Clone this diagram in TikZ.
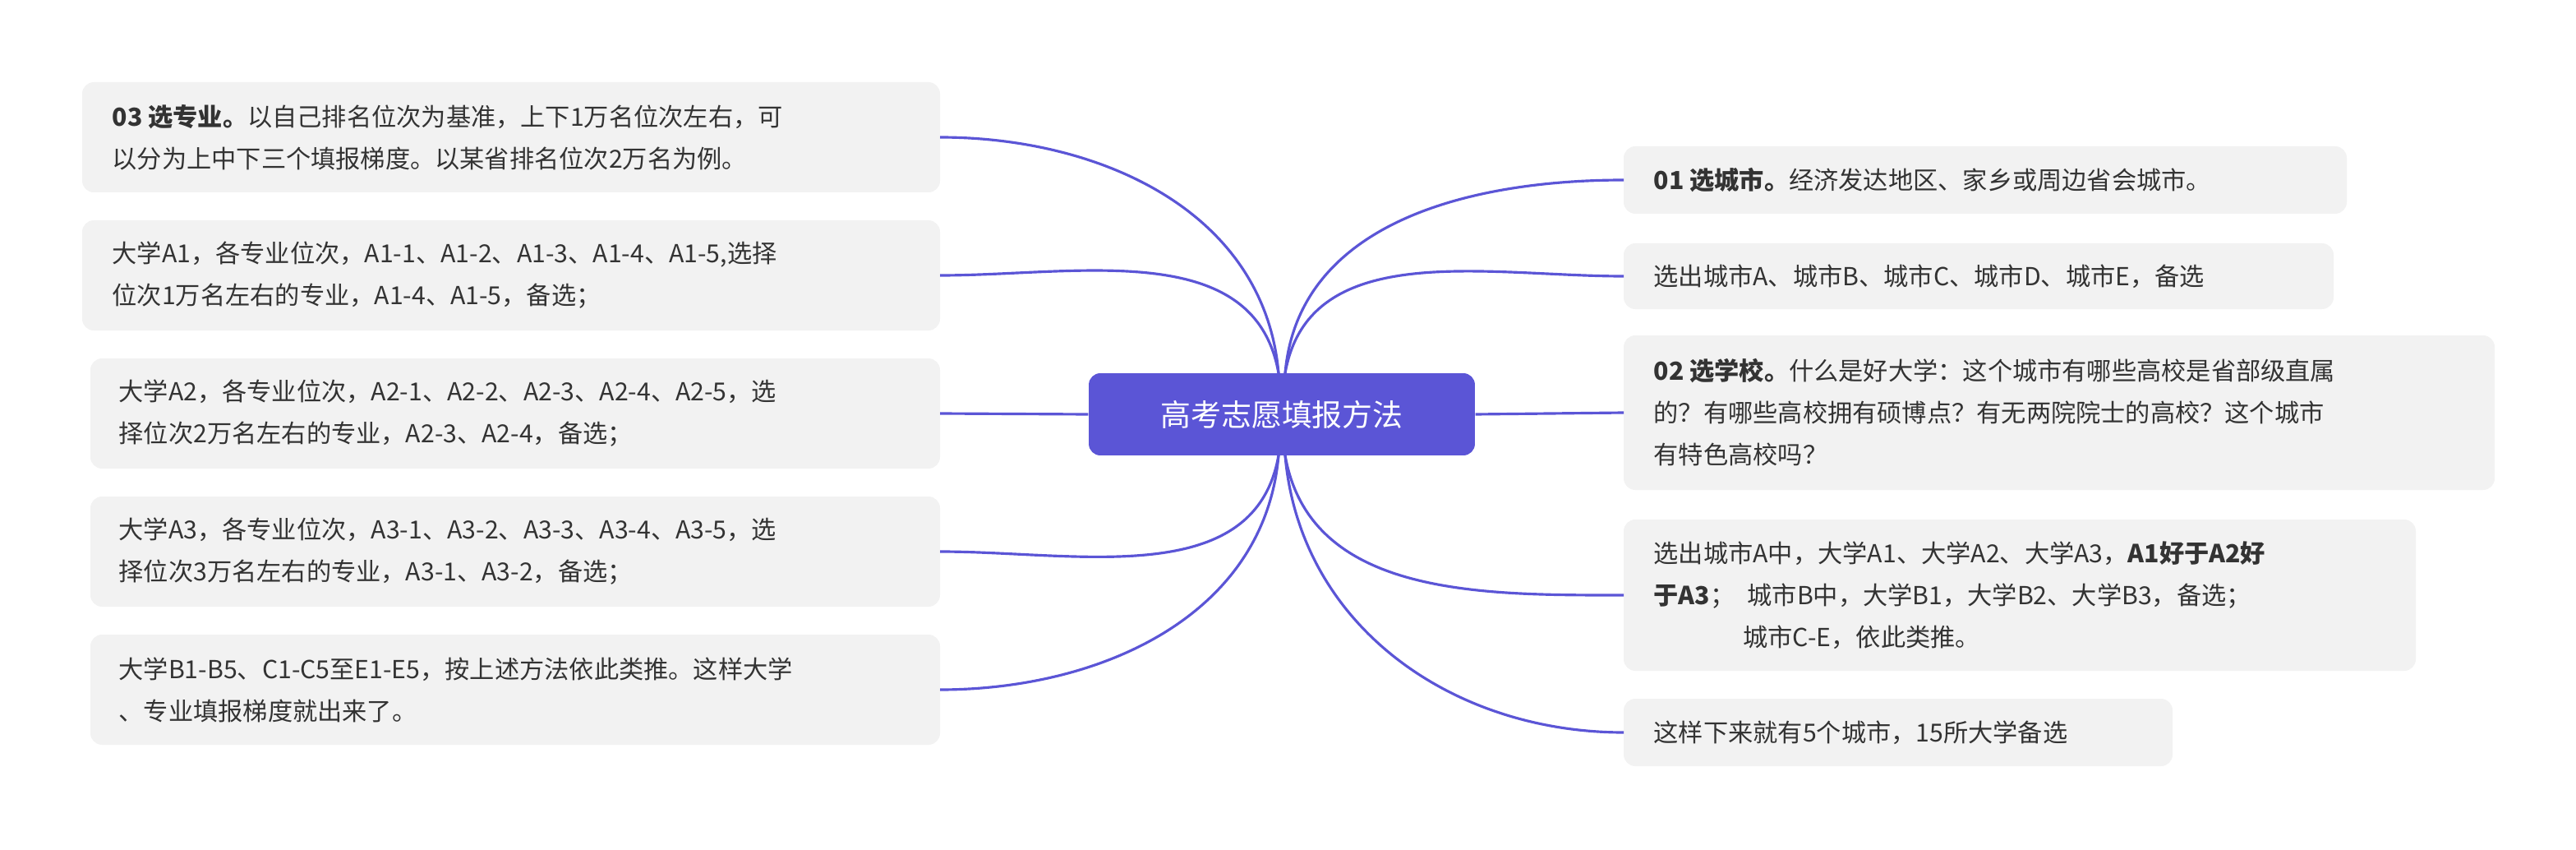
\documentclass[tikz,border=0pt]{standalone}
\usepackage{fontspec}
\setmainfont{Noto Sans CJK SC}
\usepackage{tikz}
\usetikzlibrary{positioning}
\definecolor{hub}{HTML}{5B55D6}
\definecolor{leaf}{HTML}{F2F2F2}
\definecolor{ink}{HTML}{333333}
\tikzset{
  leafbox/.style={fill=leaf, rounded corners=4pt, align=left, inner sep=0pt, anchor=west, text=ink, font=\fontsize{8.6}{14.5}\selectfont},
  link/.style={draw=hub, line width=0.9pt}
}
\begin{document}
\begin{tikzpicture}[x=0.02cm, y=-0.02cm]
\useasboundingbox (0,0) rectangle (1567.5,517);
% centre
\node[fill=hub, rounded corners=4pt, minimum width=4.7cm, minimum height=1cm, text=white, font=\fontsize{10.5}{12}\selectfont] (root) at (780,252) {高考志愿填报方法};

% left side
\path[fill=leaf, rounded corners=4pt] (50,50) rectangle (572,117);
\node[leafbox] (l1) at (68,83.5) {\textbf{03 选专业。}以自己排名位次为基准，上下1万名位次左右，可\\以分为上中下三个填报梯度。以某省排名位次2万名为例。};
\path[fill=leaf, rounded corners=4pt] (50,134) rectangle (572,201);
\node[leafbox] (l2) at (68,167.5) {大学A1，各专业位次，A1-1、A1-2、A1-3、A1-4、A1-5,选择\\位次1万名左右的专业，A1-4、A1-5，备选；};
\path[fill=leaf, rounded corners=4pt] (55,218) rectangle (572,285);
\node[leafbox] (l3) at (72,251.5) {大学A2，各专业位次，A2-1、A2-2、A2-3、A2-4、A2-5，选\\择位次2万名左右的专业，A2-3、A2-4，备选；};
\path[fill=leaf, rounded corners=4pt] (55,302) rectangle (572,369);
\node[leafbox] (l4) at (72,335.5) {大学A3，各专业位次，A3-1、A3-2、A3-3、A3-4、A3-5，选\\择位次3万名左右的专业，A3-1、A3-2，备选；};
\path[fill=leaf, rounded corners=4pt] (55,386) rectangle (572,453);
\node[leafbox] (l5) at (72,419.5) {大学B1-B5、C1-C5至E1-E5，按上述方法依此类推。这样大学\\、专业填报梯度就出来了。};

% right side
\path[fill=leaf, rounded corners=4pt] (988,89) rectangle (1428,130);
\node[leafbox] (r1) at (1006,109.5) {\textbf{01 选城市。}经济发达地区、家乡或周边省会城市。};
\path[fill=leaf, rounded corners=4pt] (988,148) rectangle (1420,188);
\node[leafbox] (r2) at (1006,168) {选出城市A、城市B、城市C、城市D、城市E，备选};
\path[fill=leaf, rounded corners=4pt] (988,204) rectangle (1518,298);
\node[leafbox] (r3) at (1006,251) {\textbf{02 选学校。}什么是好大学：这个城市有哪些高校是省部级直属\\的？有哪些高校拥有硕博点？有无两院院士的高校？这个城市\\有特色高校吗？};
\path[fill=leaf, rounded corners=4pt] (988,316) rectangle (1470,408);
\node[leafbox] (r4) at (1006,362) {选出城市A中，大学A1、大学A2、大学A3，\textbf{A1好于A2好}\\\textbf{于A3}；\enspace 城市B中，大学B1，大学B2、大学B3，备选；\\\hspace{3.6em}城市C-E，依此类推。};
\path[fill=leaf, rounded corners=4pt] (988,425) rectangle (1322,466);
\node[leafbox] (r5) at (1006,445.5) {这样下来就有5个城市，15所大学备选};

% connectors
\draw[link] (778,227) to[out=95,in=0] (572,83.5);
\draw[link] (778,227) to[out=100,in=0] (572,167.5);
\draw[link] (root.west) -- (572,251.5);
\draw[link] (778,277) to[out=-100,in=0] (572,335.5);
\draw[link] (778,277) to[out=-95,in=0] (572,419.5);
\draw[link] (782,227) to[out=85,in=180] (988,109.5);
\draw[link] (782,227) to[out=80,in=180] (988,168);
\draw[link] (root.east) -- (988,251);
\draw[link] (782,277) to[out=-80,in=180] (988,362);
\draw[link] (782,277) to[out=-85,in=180] (988,445.5);
\end{tikzpicture}
\end{document}
